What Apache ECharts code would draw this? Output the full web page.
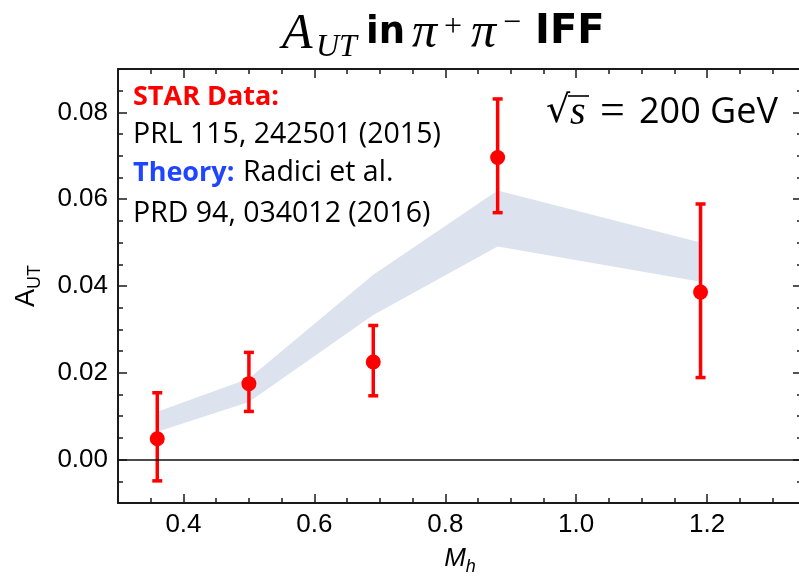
<!DOCTYPE html>
<html>
<head>
<meta charset="utf-8">
<script src="https://cdn.jsdelivr.net/npm/echarts@6/dist/echarts.min.js"></script>
<style>
  html, body { margin: 0; padding: 0; background: #fff; }
  #chart { width: 799px; height: 579px; }
</style>
</head>
<body>
<div id="chart"></div>
<script>
// STAR data points (M_h, A_UT) with error bar ends
var mh = [0.36, 0.50, 0.69, 0.88, 1.19];
var aut = [0.0048, 0.0175, 0.0225, 0.0696, 0.0386];
var errLow = [-0.0049, 0.0111, 0.0147, 0.0569, 0.0189];
var errHigh = [0.0154, 0.0247, 0.0309, 0.0831, 0.0589];

// theory band (Radici et al.)
var bandX = [0.36, 0.50, 0.69, 0.88, 1.19];
var bandLow = [0.0064, 0.0133, 0.0333, 0.0491, 0.0410];
var bandHigh = [0.0110, 0.0187, 0.0426, 0.0620, 0.0500];

// ticks
var xMajor = [0.4, 0.6, 0.8, 1.0, 1.2];
var yMajor = [0.00, 0.02, 0.04, 0.06, 0.08];

var frameColor = '#1a1a1a';
var labelFont = 'Liberation Sans';

function minorAxis(pos, isX) {
    return {
        type: 'value',
        position: pos,
        min: isX ? 0.3 : -0.01,
        max: isX ? 1.345 : 0.09,
        interval: isX ? 0.05 : 0.005,
        axisLine: { show: true, onZero: false, lineStyle: { color: frameColor, width: 2 } },
        axisTick: { show: true, inside: true, length: 5, lineStyle: { color: frameColor, width: 1.5 } },
        axisLabel: { show: false },
        splitLine: { show: false }
    };
}

function majorAxis(pos, isX, withLabels) {
    var vals = isX ? xMajor : yMajor;
    return {
        type: 'value',
        position: pos,
        min: isX ? 0.3 : -0.01,
        max: isX ? 1.345 : 0.09,
        axisLine: { show: false, onZero: false },
        axisTick: { show: true, inside: true, length: 9, customValues: vals,
            lineStyle: { color: frameColor, width: 1.5 } },
        axisLabel: {
            show: withLabels,
            customValues: vals,
            margin: isX ? 9 : 10,
            color: '#000',
            fontFamily: labelFont,
            fontSize: 26,
            formatter: function (v) { return v.toFixed(isX ? 1 : 2); }
        },
        splitLine: { show: false }
    };
}

var xBottom = majorAxis('bottom', true, true);
xBottom.name = '{m|M}{s|h}';
xBottom.nameLocation = 'middle';
xBottom.nameGap = 39;
xBottom.nameTextStyle = {
    rich: {
        m: { fontFamily: labelFont, fontStyle: 'italic', fontSize: 26, color: '#000', verticalAlign: 'middle', lineHeight: 30 },
        s: { fontFamily: labelFont, fontStyle: 'italic', fontSize: 18, color: '#000', verticalAlign: 'bottom', lineHeight: 34 }
    }
};

var yLeft = majorAxis('left', false, true);
yLeft.name = '{m|A}{s|UT}';
yLeft.nameLocation = 'middle';
yLeft.nameRotate = 90;
yLeft.nameGap = 74;
yLeft.nameTextStyle = {
    rich: {
        m: { fontFamily: labelFont, fontSize: 27, color: '#000', verticalAlign: 'middle', lineHeight: 30 },
        s: { fontFamily: labelFont, fontSize: 18, color: '#000', verticalAlign: 'bottom', lineHeight: 34 }
    }
};

var errData = mh.map(function (x, i) { return [x, errLow[i], errHigh[i]]; });
var ptData = mh.map(function (x, i) { return [x, aut[i]]; });
var bandData = bandX.map(function (x, i) { return [x, bandLow[i], bandHigh[i]]; });

var option = {
    animation: false,
    backgroundColor: '#fff',
    grid: { left: 118, top: 69, width: 684, height: 434, containLabel: false, outerBoundsMode: 'none' },
    xAxis: [minorAxis('bottom', true), xBottom, minorAxis('top', true), majorAxis('top', true, false)],
    yAxis: [minorAxis('left', false), yLeft, minorAxis('right', false), majorAxis('right', false, false)],
    series: [
        {
            type: 'custom', name: 'band', data: bandData,
            encode: { x: 0, y: [1, 2] },
            silent: true,
            renderItem: function (params, api) {
                if (params.dataIndex !== 0) return null;
                var pts = [];
                for (var i = 0; i < bandX.length; i++) pts.push(api.coord([bandX[i], bandHigh[i]]));
                for (var j = bandX.length - 1; j >= 0; j--) pts.push(api.coord([bandX[j], bandLow[j]]));
                return { type: 'polygon', shape: { points: pts }, style: { fill: '#dde3ee' } };
            },
            markLine: {
                silent: true, symbol: 'none', label: { show: false },
                lineStyle: { color: '#111', width: 1.6, type: 'solid' },
                data: [{ yAxis: 0 }]
            }
        },
        {
            type: 'custom', name: 'errors', data: errData,
            encode: { x: 0, y: [1, 2] },
            renderItem: function (params, api) {
                var x = api.value(0);
                var top = api.coord([x, api.value(2)]);
                var bot = api.coord([x, api.value(1)]);
                var style = { stroke: '#ff0000', lineWidth: 3.5 };
                return {
                    type: 'group',
                    children: [
                        { type: 'line', shape: { x1: top[0], y1: top[1], x2: bot[0], y2: bot[1] }, style: style },
                        { type: 'line', shape: { x1: top[0] - 5, y1: top[1], x2: top[0] + 5, y2: top[1] }, style: style },
                        { type: 'line', shape: { x1: bot[0] - 5, y1: bot[1], x2: bot[0] + 5, y2: bot[1] }, style: style }
                    ]
                };
            }
        },
        {
            type: 'scatter', name: 'STAR', data: ptData,
            symbol: 'circle', symbolSize: 15,
            itemStyle: { color: '#ff0000', opacity: 1 }
        }
    ],
    graphic: [
        // title
        { type: 'text', x: 282, y: 35, style: { text: 'A', font: 'italic 50px "Liberation Serif"', fill: '#000', verticalAlign: 'middle' } },
        { type: 'text', x: 316, y: 48, style: { text: 'UT', font: 'italic 32px "Liberation Serif"', fill: '#000', verticalAlign: 'middle' } },
        { type: 'text', x: 366, y: 33, style: { text: 'in', font: 'bold 37px "DejaVu Sans"', fill: '#000', verticalAlign: 'middle' } },
        { type: 'text', x: 412, y: 34, style: { text: 'π', font: 'italic 50px "Liberation Serif"', fill: '#000', verticalAlign: 'middle' } },
        { type: 'text', x: 444, y: 28, style: { text: '+', font: '32px "Liberation Serif"', fill: '#000', verticalAlign: 'middle' } },
        { type: 'text', x: 471, y: 34, style: { text: 'π', font: 'italic 50px "Liberation Serif"', fill: '#000', verticalAlign: 'middle' } },
        { type: 'text', x: 503, y: 24, style: { text: '−', font: '32px "Liberation Serif"', fill: '#000', verticalAlign: 'middle' } },
        { type: 'text', x: 535, y: 33, style: { text: 'IFF', font: 'bold 40px "DejaVu Sans"', fill: '#000', verticalAlign: 'middle' } },
        // reference block
        { type: 'text', x: 133, y: 97, style: { text: 'STAR Data:', font: 'bold 27px "Open Sans"', fill: '#ff0000', verticalAlign: 'middle' } },
        { type: 'text', x: 133, y: 135, style: { text: 'PRL 115, 242501 (2015)', font: '28.5px "Open Sans"', fill: '#000', verticalAlign: 'middle' } },
        { type: 'text', x: 133, y: 173, style: { text: 'Theory:', font: 'bold 27px "Open Sans"', fill: '#1f45ff', verticalAlign: 'middle' } },
        { type: 'text', x: 243, y: 173, style: { text: 'Radici et al.', font: '28.5px "Open Sans"', fill: '#000', verticalAlign: 'middle' } },
        { type: 'text', x: 133, y: 214, style: { text: 'PRD 94, 034012 (2016)', font: '28.5px "Open Sans"', fill: '#000', verticalAlign: 'middle' } },
        // energy label
        { type: 'text', x: 546, y: 112, style: { text: '√', font: '38px "DejaVu Serif"', fill: '#000', verticalAlign: 'middle' } },
        { type: 'line', shape: { x1: 568, y1: 96, x2: 589, y2: 96 }, style: { stroke: '#000', lineWidth: 1.6 } },
        { type: 'text', x: 570, y: 113, style: { text: 's', font: 'italic 40px "Liberation Serif"', fill: '#000', verticalAlign: 'middle' } },
        { type: 'text', x: 600, y: 112, style: { text: '=', font: '44px "Liberation Serif"', fill: '#000', verticalAlign: 'middle' } },
        { type: 'text', x: 639, y: 113, style: { text: '200 GeV', font: '36px "Open Sans"', fill: '#000', verticalAlign: 'middle' } }
    ]
};

var chartDom = document.getElementById('chart');
var myChart = echarts.init(chartDom);
myChart.setOption(option);
</script>
</body>
</html>
